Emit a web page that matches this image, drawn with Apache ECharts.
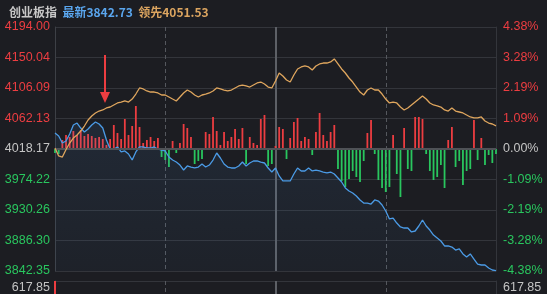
<!DOCTYPE html>
<html><head><meta charset="utf-8">
<script src="https://cdn.jsdelivr.net/npm/echarts@6/dist/echarts.min.js"></script>
<style>html,body{margin:0;padding:0;background:#1c1d22;}#c{width:547px;height:294px;}</style>
</head><body><div id="c"></div>
<script>
// 领先 (orange) line, 2-minute steps from 9:30 to 15:00
const leadValues = [
4019.6,4008.1,4006.6,4017.5,4026.8,4034.0,4038.4,4044.1,4051.3,4060.0,
4065.7,4070.1,4072.9,4074.4,4077.3,4078.7,4081.6,4084.5,4085.9,4087.4,
4085.9,4090.2,4097.4,4106.1,4104.7,4101.8,4100.3,4100.3,4098.9,4096.0,
4096.0,4093.1,4090.2,4087.4,4093.1,4098.9,4103.2,4100.3,4096.0,4093.1,
4096.0,4097.4,4098.9,4101.8,4106.1,4104.7,4103.2,4101.8,4103.2,4106.1,
4109.0,4110.4,4109.0,4107.5,4110.4,4113.3,4114.7,4111.9,4107.5,4106.1,
4116.2,4127.7,4123.4,4117.6,4114.7,4124.8,4133.5,4136.4,4137.8,4136.4,
4132.0,4137.8,4140.7,4142.1,4142.1,4143.6,4147.9,4140.7,4133.5,4127.7,
4120.5,4114.7,4107.5,4100.3,4096.0,4103.2,4106.1,4103.2,4103.2,4097.4,
4090.2,4084.5,4085.9,4084.5,4078.7,4074.4,4077.3,4081.6,4085.9,4090.2,
4094.6,4090.2,4084.5,4081.6,4080.2,4078.7,4074.4,4072.9,4077.3,4072.9,
4071.5,4070.1,4067.2,4064.3,4062.9,4062.9,4064.3,4058.5,4055.6,4054.2,
4051.53];
// 最新 (blue) price line
const priceValues = [
4041.2,4036.9,4026.8,4029.7,4039.8,4052.8,4055.6,4048.4,4042.7,4047.0,
4052.8,4057.1,4054.2,4048.4,4031.1,4018.2,4018.2,4021.1,4013.9,4015.3,
4011.0,4002.3,4013.9,4021.1,4021.1,4019.6,4019.6,4021.1,4018.2,4016.7,
4015.3,4006.6,4002.3,3999.4,3995.1,3987.9,3993.7,3992.2,3990.8,3992.2,
3996.6,3992.2,3995.1,4002.3,4012.4,4005.2,3996.6,3992.2,3990.8,3990.8,
3993.7,3999.4,3993.7,3998.0,4000.9,4000.9,3999.4,3998.0,3990.8,3985.0,
3990.8,3979.3,3972.1,3972.1,3972.1,3982.1,3990.8,3986.5,3986.5,3990.8,
3986.5,3987.9,3986.5,3985.0,3983.6,3985.0,3982.1,3976.4,3970.6,3962.0,
3957.6,3954.8,3950.4,3944.7,3940.3,3940.3,3938.9,3944.7,3943.2,3937.5,
3928.8,3917.3,3918.7,3911.5,3905.8,3904.3,3904.3,3898.6,3900.0,3907.2,
3915.9,3907.2,3901.4,3894.2,3889.9,3885.6,3878.4,3878.4,3876.9,3872.6,
3874.1,3866.9,3862.5,3866.9,3859.6,3852.4,3851.0,3851.0,3846.7,3843.8,
3842.73];
// red/green strength bars
const strengthValues = [
-4,-5,9,14,12,18,14,19,13,15,
13,11,12,10,4,10,24,16,10,30,
14,23,43,22,6,9,12,8,11,-8,
-11,-18,8,-4,6,25,21,12,-15,-12,
-10,17,15,32,18,4,17,8,12,20,
10,21,-15,12,6,4,30,34,-17,-15,
3,22,20,-10,11,27,31,8,12,10,
-6,17,36,14,8,17,24,-20,-32,-38,
-30,-22,-28,-33,-12,16,29,-5,-31,-39,
-43,-38,14,-25,-48,21,-20,-22,32,32,
30,-5,-22,-31,-28,-16,-39,9,22,-18,
-12,-36,-22,-20,29,-11,11,-16,-6,-14,
-5];
const volumeValues = [617.85];
const priceTickLabels = ['3842.35','3886.30','3930.26','3974.22','4018.17','4062.13','4106.09','4150.04','4194.00'];
const pctTickLabels = ['-4.38%','-3.28%','-2.19%','-1.09%','0.00%','1.09%','2.19%','3.28%','4.38%'];
const volumeTickLabel = '617.85';
const headerName = '创业板指';
const headerLatest = '最新3842.73';
const headerLead = '领先4051.53';

const categories = [];
for (let m = 0; m <= 240; m += 2) {
  let t = m <= 120 ? 9 * 60 + 30 + m : 13 * 60 + (m - 120);
  categories.push(Math.floor(t / 60) + ':' + String(t % 60).padStart(2, '0'));
}

const RED = '#ec3d41', GREEN = '#29c65e', GREY = '#c4c4c4';
const labelColor = (v) => v < 4 ? GREEN : (v > 4 ? RED : GREY);
const gridColor = '#33353b';

const chart = echarts.init(document.getElementById('c'), null, {renderer: 'canvas'});
const xBase = (gi) => ({
  type: 'category', gridIndex: gi, data: categories, boundaryGap: false,
  axisLine: {show: false}, axisTick: {show: false}, axisLabel: {show: false},
  splitLine: {show: true, interval: (i) => i === 30 || i === 90,
    lineStyle: {color: '#55585e', type: [4, 3], width: 1}}
});
const xMid = (gi) => ({
  type: 'category', gridIndex: gi, data: categories, boundaryGap: false, position: 'top',
  axisLine: {show: false}, axisTick: {show: false}, axisLabel: {show: false},
  splitLine: {show: true, interval: (i) => i === 60, lineStyle: {color: '#5d6066', width: 2}}
});

chart.setOption({
  animation: false,
  backgroundColor: '#1c1d22',
  title: {
    left: 4, top: 1,
    text: '{a|' + headerName + '}  {b|' + headerLatest + '}  {c|' + headerLead + '}',
    textStyle: {
      fontSize: 12, fontFamily: 'Noto Sans CJK SC',
      rich: {
        a: {color: '#c8c8c8', fontSize: 12, fontFamily: 'Noto Sans CJK SC'},
        b: {color: '#5aa6ee', fontSize: 12, fontFamily: 'Noto Sans CJK SC'},
        c: {color: '#dca560', fontSize: 12, fontFamily: 'Noto Sans CJK SC'}
      }
    }
  },
  grid: [
    {left: 55, right: 51, top: 27, height: 244},
    {left: 55, right: 51, top: 281, height: 60}
  ],
  xAxis: [xBase(0), xMid(0), xBase(1), xMid(1)],
  yAxis: [
    {type: 'value', gridIndex: 0, min: 3842.35, max: 4194.00, show: false},
    {type: 'value', gridIndex: 0, position: 'left', min: 0, max: 8, interval: 1,
      axisLine: {show: true, lineStyle: {color: '#3d4046'}}, axisTick: {show: false},
      axisLabel: {formatter: (v) => priceTickLabels[v], color: labelColor, fontSize: 12.5,
        fontFamily: 'Liberation Sans', margin: 5},
      splitLine: {show: true, lineStyle: {color: gridColor, width: 1}}},
    {type: 'value', gridIndex: 0, position: 'right', min: 0, max: 8, interval: 1,
      axisLine: {show: true, lineStyle: {color: '#33353b'}}, axisTick: {show: false},
      axisLabel: {formatter: (v) => pctTickLabels[v], color: labelColor, fontSize: 12.5,
        fontFamily: 'Liberation Sans', margin: 7},
      splitLine: {show: false}},
    {type: 'value', gridIndex: 0, min: -122, max: 122, show: false},
    {type: 'value', gridIndex: 1, position: 'left', min: 0, max: 617.85, interval: 617.85,
      axisLine: {show: true, lineStyle: {color: '#3d4046'}}, axisTick: {show: false},
      axisLabel: {formatter: (v) => v > 0 ? volumeTickLabel : '', color: GREY, fontSize: 12.5,
        fontFamily: 'Liberation Sans', margin: 5, verticalAlign: 'top'},
      splitLine: {show: true, lineStyle: {color: gridColor}}},
    {type: 'value', gridIndex: 1, position: 'right', min: 0, max: 617.85, interval: 617.85,
      axisLine: {show: true, lineStyle: {color: '#33353b'}}, axisTick: {show: false},
      axisLabel: {formatter: (v) => v > 0 ? volumeTickLabel : '', color: GREY, fontSize: 12.5,
        fontFamily: 'Liberation Sans', margin: 7, verticalAlign: 'top'},
      splitLine: {show: false}}
  ],
  series: [
    {type: 'bar', name: 'strength', xAxisIndex: 0, yAxisIndex: 3, data: strengthValues,
      barWidth: 1.8, z: 2,
      itemStyle: {color: (p) => p.value >= 0 ? RED : GREEN},
      markLine: {silent: true, symbol: 'none', label: {show: false},
        lineStyle: {color: '#4f5257', width: 2, type: 'solid'}, data: [{yAxis: 0}]}},
    {type: 'line', name: '最新', xAxisIndex: 0, yAxisIndex: 0, data: priceValues,
      symbol: 'none', z: 4, lineStyle: {color: '#4b9be6', width: 1.3},
      areaStyle: {color: new echarts.graphic.LinearGradient(0, 0, 0, 1, [
        {offset: 0, color: 'rgba(75,140,210,0.16)'}, {offset: 1, color: 'rgba(75,140,210,0.06)'}])}},
    {type: 'line', name: '领先', xAxisIndex: 0, yAxisIndex: 0, data: leadValues,
      symbol: 'none', z: 5, lineStyle: {color: '#dfa65e', width: 1.3}},
    {type: 'bar', name: 'volume', xAxisIndex: 2, yAxisIndex: 4, data: volumeValues,
      barWidth: 2, itemStyle: {color: RED}}
  ],
  graphic: [
    {type: 'line', shape: {x1: 105, y1: 55, x2: 105, y2: 94}, style: {stroke: RED, lineWidth: 2}, z: 10},
    {type: 'polygon', shape: {points: [[100, 92], [110, 92], [105, 103]]}, style: {fill: RED}, z: 10}
  ]
});
</script></body></html>
